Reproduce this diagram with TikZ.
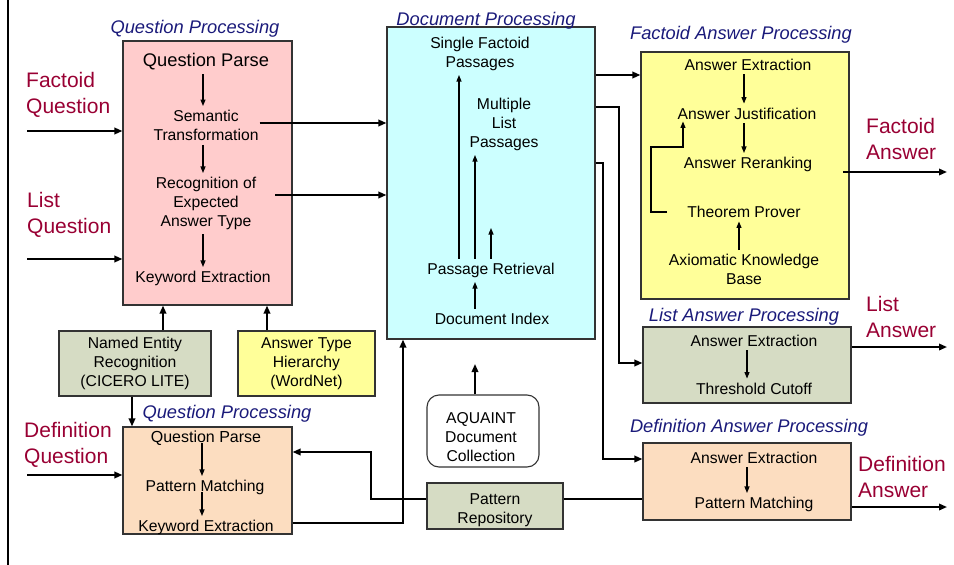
\documentclass[tikz,border=0pt]{standalone}
\usepackage{fontspec}
\setmainfont{Liberation Sans}
\usetikzlibrary{arrows.meta,calc}
\definecolor{qpink}{HTML}{FFCCCC}
\definecolor{dcyan}{HTML}{CCFFFF}
\definecolor{fyel}{HTML}{FFFF99}
\definecolor{sage}{HTML}{D6DCC4}
\definecolor{peach}{HTML}{FCDDC0}
\definecolor{ttl}{HTML}{1A1A7A}
\definecolor{lbl}{HTML}{990033}
\begin{document}
\begin{tikzpicture}[x=1pt,y=-1pt,
  box/.style={draw=black!80,line width=1.1pt,inner sep=0pt},
  txt/.style={font=\fontsize{15.7}{19}\selectfont,align=center,inner sep=1pt,yshift=-1.5pt},
  boxtxt/.style={font=\fontsize{15.7}{19}\selectfont,align=center},
  bigtxt/.style={font=\fontsize{18.3}{22}\selectfont,align=center,inner sep=1pt,yshift=-1.5pt},
  ttlst/.style={font=\fontsize{18.3}{22}\selectfont\itshape,text=ttl,inner sep=0pt,yshift=-1.5pt},
  lblst/.style={font=\fontsize{21}{26}\selectfont,text=lbl,align=left,inner sep=0pt,anchor=west,yshift=-2pt},
  conn/.style={line width=1.8pt,-{Triangle[length=8pt,width=6.5pt]}},
  plain/.style={line width=1.8pt},
  iarr/.style={line width=1.1pt,-{Triangle[length=6.5pt,width=5pt]},shorten <=3pt,shorten >=3pt},
  iline/.style={line width=1.1pt}
]
\useasboundingbox (0,0) rectangle (954,565);
\draw[line width=2pt] (8,0) -- (8,565);

% ---------- boxes ----------
\node[box,fill=qpink,minimum width=169pt,minimum height=264pt] (qp) at (207.5,173) {};
\node[box,fill=dcyan,minimum width=208pt,minimum height=312pt] (dp) at (491,183) {};
\node[box,fill=fyel,minimum width=208pt,minimum height=247pt] (fap) at (745,175.5) {};
\node[box,fill=sage,minimum width=208pt,minimum height=76pt] (lap) at (747,365) {};
\node[box,fill=peach,minimum width=208pt,minimum height=77pt] (dap) at (747,481.5) {};
\node[box,fill=sage,minimum width=152pt,minimum height=65pt,boxtxt] (ner) at (135,363.5) {Named Entity\\Recognition\\(CICERO LITE)};
\node[box,fill=fyel,minimum width=137pt,minimum height=65pt,boxtxt] (ath) at (306.5,363.5) {Answer Type\\Hierarchy\\(WordNet)};
\node[box,fill=peach,minimum width=169pt,minimum height=107pt] (dqp) at (207.5,480.5) {};
\node[box,fill=white,rounded corners=12pt,minimum width=112pt,minimum height=72pt] (aq) at (483,431) {};
\node[txt] (aqt) at (481,436) {AQUAINT\\Document\\Collection};
\node[box,fill=sage,minimum width=136pt,minimum height=46pt] (pr) at (495,506) {};
\node[txt] (prtx) at (495,509) {Pattern\\Repository};

% ---------- titles ----------
\node[ttlst] (t1) at (195,27) {Question Processing};
\node[ttlst] (t2) at (486,19) {Document Processing};
\node[ttlst] (t3) at (741,33) {Factoid Answer Processing};
\node[ttlst] (t4) at (744,315) {List Answer Processing};
\node[ttlst] (t5) at (749,426) {Definition Answer Processing};
\node[ttlst] (t6) at (227,412) {Question Processing};

% ---------- side labels ----------
\node[lblst] (lfq) at (26,93) {Factoid\\Question};
\node[lblst] (llq) at (27,213) {List\\Question};
\node[lblst] (ldq) at (24,443) {Definition\\Question};
\node[lblst] (lfa) at (866,137) {Factoid\\Answer};
\node[lblst] (lla) at (866,315) {List\\Answer};
\node[lblst] (lda) at (858,474.5) {Definition\\Answer};

% ---------- question processing contents ----------
\node[bigtxt] (qparse) at (206,60) {Question Parse};
\node[txt] (st) at (206,124) {Semantic\\Transformation};
\node[txt] (rec) at (206,202) {Recognition of\\Expected\\Answer Type};
\node[txt] (kw) at (203,277) {Keyword Extraction};
\draw[iarr] (qparse.south -| 203,0) -- (st.north -| 203,0);
\draw[iarr] (st.south -| 203,0) -- (rec.north -| 203,0);
\draw[iarr] (rec.south -| 203,0) -- (kw.north -| 203,0);

% ---------- document processing contents ----------
\node[txt] (sfp) at (480,52.5) {Single Factoid\\Passages};
\node[txt] (mlp) at (504,123) {Multiple\\List\\Passages};
\node[txt] (prt) at (491,269) {Passage Retrieval};
\node[txt] (di) at (492,317) {Document Index};
\coordinate (mtip) at (491,228);
\draw[iarr] (prt.north -| 459,0) -- (sfp.south -| 459,0);
\draw[iarr] (prt.north -| 475,0) -- (mlp.south -| 475,0);
\draw[iarr,shorten >=0pt] (prt.north -| 491,0) -- (mtip);
\draw[iarr] (di.north -| 475,0) -- (prt.south -| 475,0);

% ---------- factoid answer contents ----------
\node[txt] (ae) at (748,63) {Answer Extraction};
\node[txt] (aj) at (747,112) {Answer Justification};
\node[txt] (ar) at (748,163) {Answer Reranking};
\node[txt] (tp) at (744,210) {Theorem Prover};
\node[txt] (akb) at (744,268) {Axiomatic Knowledge\\Base};
\draw[iarr] (ae.south -| 744,0) -- (aj.north -| 744,0);
\draw[iarr] (aj.south -| 744,0) -- (ar.north -| 744,0);
\draw[iarr] (akb.north -| 739,0) -- (tp.south -| 739,0);
\coordinate (loopst) at (667,212);
\draw[iarr,shorten <=0pt,shorten >=1pt] (loopst) -- (651,212) -- (651,147) -- (683,147) -- (aj.south -| 683,0);

% ---------- list answer contents ----------
\node[txt] (lae) at (754,339) {Answer Extraction};
\node[txt] (tc) at (754,387) {Threshold Cutoff};
\draw[iarr] (lae.south -| 747,0) -- (tc.north -| 747,0);

% ---------- definition answer contents ----------
\node[txt] (dae) at (754,456) {Answer Extraction};
\node[txt] (dpm) at (754,503) {Pattern Matching};
\draw[iarr] (dae.south -| 747,0) -- (dpm.north -| 747,0);

% ---------- definition question contents ----------
\node[txt,font=\fontsize{16}{19}\selectfont] (dqparse) at (206,437) {Question Parse};
\node[txt] (dqpm) at (205,486) {Pattern Matching};
\node[txt] (dqkw) at (206,526) {Keyword Extraction};
\draw[iarr,shorten <=-4pt] (dqparse.south -| 202,0) -- (dqpm.north -| 202,0);
\draw[iarr,shorten <=-4pt] (dqpm.south -| 202,0) -- (dqkw.north -| 202,0);

% ---------- connectors ----------
\coordinate (fqin) at (27,131);
\coordinate (lqin) at (27,259);
\coordinate (dqin) at (27,475);
\draw[conn] (fqin) -- (fqin -| qp.west);
\draw[conn] (lqin) -- (lqin -| qp.west);
\draw[conn] (dqin) -- (dqin -| dqp.west);

\draw[conn] (st.east |- 275,123) -- (dp.west |- 0,123);
\draw[conn] (275,195) -- (dp.west |- 0,195);

\draw[conn] (dp.east |- 0,75) -- (fap.west |- 0,75);
\draw[conn] (dp.east |- 0,107) -- (619,107) -- (619,363) -- (lap.west |- 0,363);
\draw[conn] (dp.east |- 0,163) -- (603,163) -- (603,459) -- (dap.west |- 0,459);

\draw[conn] (dqp.east |- 0,523) -- (403,523) -- (dp.south -| 403,0);
\draw[conn] (pr.west |- 0,499) -- (371,499) -- (371,452) -- (dqp.east |- 0,452);
\draw[plain] (pr.east |- 0,499) -- (dap.west |- 0,499);

\coordinate (aqtip) at (475,364);
\draw[conn] (aq.north -| 475,0) -- (aqtip);

\draw[conn] (ner.north -| 163,0) -- (qp.south -| 163,0);
\draw[conn] (ner.south -| 132,0) -- (dqp.north -| 132,0);
\draw[conn] (ath.north -| 267,0) -- (qp.south -| 267,0);

\coordinate (faout) at (843,172);
\coordinate (faend) at (947,172);
\coordinate (laend) at (947,347);
\coordinate (daend) at (947,507);
\draw[conn] (faout) -- (faend);
\draw[conn] (lap.east |- laend) -- (laend);
\draw[conn] (dap.east |- daend) -- (daend);
\end{tikzpicture}
\end{document}
